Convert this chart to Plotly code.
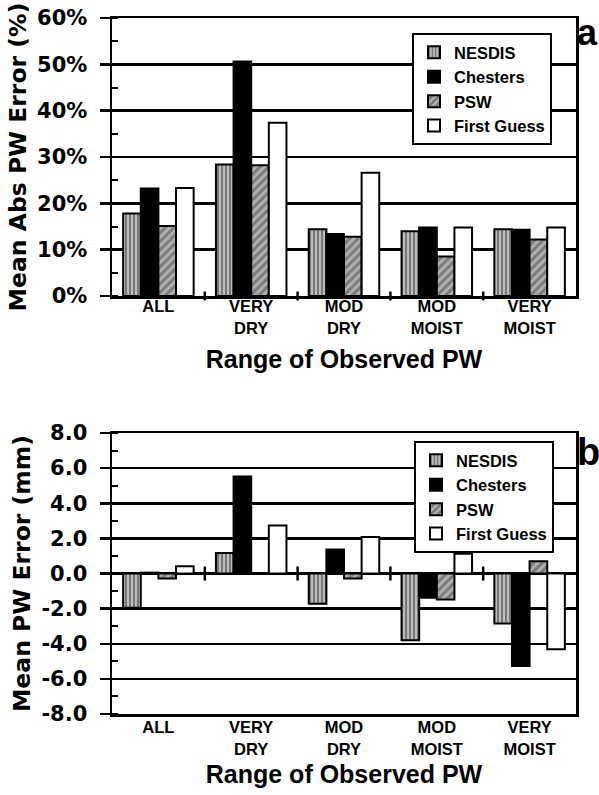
import plotly.graph_objects as go

categories = ["ALL", "VERY<br>DRY", "MOD<br>DRY", "MOD<br>MOIST", "VERY<br>MOIST"]
series_names = ["NESDIS", "Chesters", "PSW", "First Guess"]

# Panel a: Mean Abs PW Error (%)
abs_nesdis = [17.8, 28.4, 14.4, 14.0, 14.4]
abs_chesters = [23.2, 50.6, 13.4, 14.8, 14.3]
abs_psw = [15.1, 28.2, 12.8, 8.5, 12.2]
abs_fg = [23.3, 37.4, 26.6, 14.8, 14.8]

# Panel b: Mean PW Error (mm)
err_nesdis = [-1.95, 1.17, -1.72, -3.8, -2.84]
err_chesters = [0.05, 5.53, 1.36, -1.38, -5.27]
err_psw = [-0.28, 0.0, -0.28, -1.48, 0.70]
err_fg = [0.41, 2.73, 2.08, 1.12, -4.32]

a_tickvals = [0, 10, 20, 30, 40, 50, 60]
a_ticktext = ["0%", "10%", "20%", "30%", "40%", "50%", "60%"]
b_tickvals = [-8, -6, -4, -2, 0, 2, 4, 6, 8]
b_ticktext = ["-8.0", "-6.0", "-4.0", "-2.0", "0.0", "2.0", "4.0", "6.0", "8.0"]

FW, FH = 599, 795


def px(x):
    return x / FW


def py(y):
    return 1 - y / FH


SANS = "Liberation Sans, Arial, Helvetica, sans-serif"
WIDE = "DejaVu Sans, Verdana, sans-serif"

styles = {
    "NESDIS": dict(color="#b8b8b8", pattern=dict(shape="|", fgcolor="#111111", bgcolor="#bcbcbc", size=4, solidity=0.4)),
    "Chesters": dict(color="black"),
    "PSW": dict(color="#9a9a9a", pattern=dict(shape="/", fgcolor="#444444", bgcolor="#b0b0b0", size=6, solidity=0.5)),
    "First Guess": dict(color="white"),
}

fig = go.Figure()
for name, vals in zip(series_names, [abs_nesdis, abs_chesters, abs_psw, abs_fg]):
    fig.add_trace(go.Bar(x=categories, y=vals, name=name, xaxis="x", yaxis="y",
                         legend="legend",
                         marker=dict(line=dict(color="black", width=2), **styles[name])))
for name, vals in zip(series_names, [err_nesdis, err_chesters, err_psw, err_fg]):
    fig.add_trace(go.Bar(x=categories, y=vals, name=name, xaxis="x2", yaxis="y2",
                         legend="legend2",
                         marker=dict(line=dict(color="black", width=2), **styles[name])))

xdom = [px(112), px(576)]
ya_dom = [py(296), py(18)]
yb_dom = [py(714), py(433)]

axis_common = dict(showline=True, linecolor="black", linewidth=2.5, mirror=True, automargin=True)

xcommon = dict(axis_common, domain=xdom, ticks="", showgrid=False, zeroline=False,
               tickfont=dict(family=SANS, size=16.5, color="black"))

ycommon = dict(axis_common, ticks="outside", ticklen=10, tickwidth=2.5, tickcolor="black",
               ticklabelstandoff=8, ticklabeloverflow="allow",
               tickfont=dict(family=WIDE, size=21, color="black"),
               showgrid=True, gridcolor="black", gridwidth=2.5)

xtitle_font = dict(family=SANS, size=25, color="black")
ytitle_font = dict(family=WIDE, size=23.5, color="black")
legend_font = dict(family=SANS, size=16.5, color="black")

fig.update_layout(
    width=FW, height=FH,
    margin=dict(l=0, r=0, t=0, b=0, autoexpand=False),
    paper_bgcolor="white", plot_bgcolor="white",
    font=dict(family=SANS, color="black", weight="bold"),
    barmode="group", bargap=0.24, bargroupgap=0,
    xaxis=dict(xcommon, anchor="y", ticklabelstandoff=-6,
               title=dict(text="Range of Observed PW", font=xtitle_font, standoff=15)),
    xaxis2=dict(xcommon, anchor="y2", ticklabelstandoff=-3,
                title=dict(text="Range of Observed PW", font=xtitle_font, standoff=9)),
    yaxis=dict(ycommon, domain=ya_dom, anchor="x", range=[0, 60],
               tickvals=a_tickvals, ticktext=a_ticktext, zeroline=False,
               minor=dict(dtick=5, tick0=0, ticks="inside", ticklen=6, tickwidth=2, tickcolor="black", showgrid=False),
               title=dict(text="Mean Abs PW Error (%)", font=ytitle_font, standoff=4)),
    yaxis2=dict(ycommon, domain=yb_dom, anchor="x2", range=[-8, 8],
                tickvals=b_tickvals, ticktext=b_ticktext,
                zeroline=True, zerolinecolor="black", zerolinewidth=3,
                minor=dict(dtick=1, tick0=0, ticks="inside", ticklen=6, tickwidth=2, tickcolor="black", showgrid=False),
                title=dict(text="Mean PW Error (mm)", font=ytitle_font, standoff=4)),
    legend=dict(x=px(412), y=py(33), xanchor="left", yanchor="top",
                bgcolor="white", bordercolor="black", borderwidth=2,
                font=legend_font, tracegroupgap=0),
    legend2=dict(x=px(414), y=py(441), xanchor="left", yanchor="top",
                 bgcolor="white", bordercolor="black", borderwidth=2,
                 font=legend_font, tracegroupgap=0),
    showlegend=True,
)

# category boundary tick marks crossing the baseline
for k in range(len(categories) - 1):
    fig.add_shape(type="line", xref="x", yref="y domain", x0=k + 0.5, x1=k + 0.5,
                  y0=-0.016, y1=0.016, line=dict(color="black", width=2.5))
    fig.add_shape(type="line", xref="x2", yref="y2", x0=k + 0.5, x1=k + 0.5,
                  y0=-0.4, y1=0.4, line=dict(color="black", width=2.5))

fig.add_annotation(text="a", x=px(587), y=py(33), xref="paper", yref="paper",
                   showarrow=False, font=dict(family=SANS, size=36, color="black"),
                   xanchor="center", yanchor="middle")
fig.add_annotation(text="b", x=px(588), y=py(452), xref="paper", yref="paper",
                   showarrow=False, font=dict(family=SANS, size=38, color="black"),
                   xanchor="center", yanchor="middle")

# remove the browser's default page margin so the figure fills the window exactly
fig.write_html("out.html",
               config={"displayModeBar": False, "staticPlot": True},
               post_script="document.body.style.margin='0';document.body.style.overflow='hidden';")
